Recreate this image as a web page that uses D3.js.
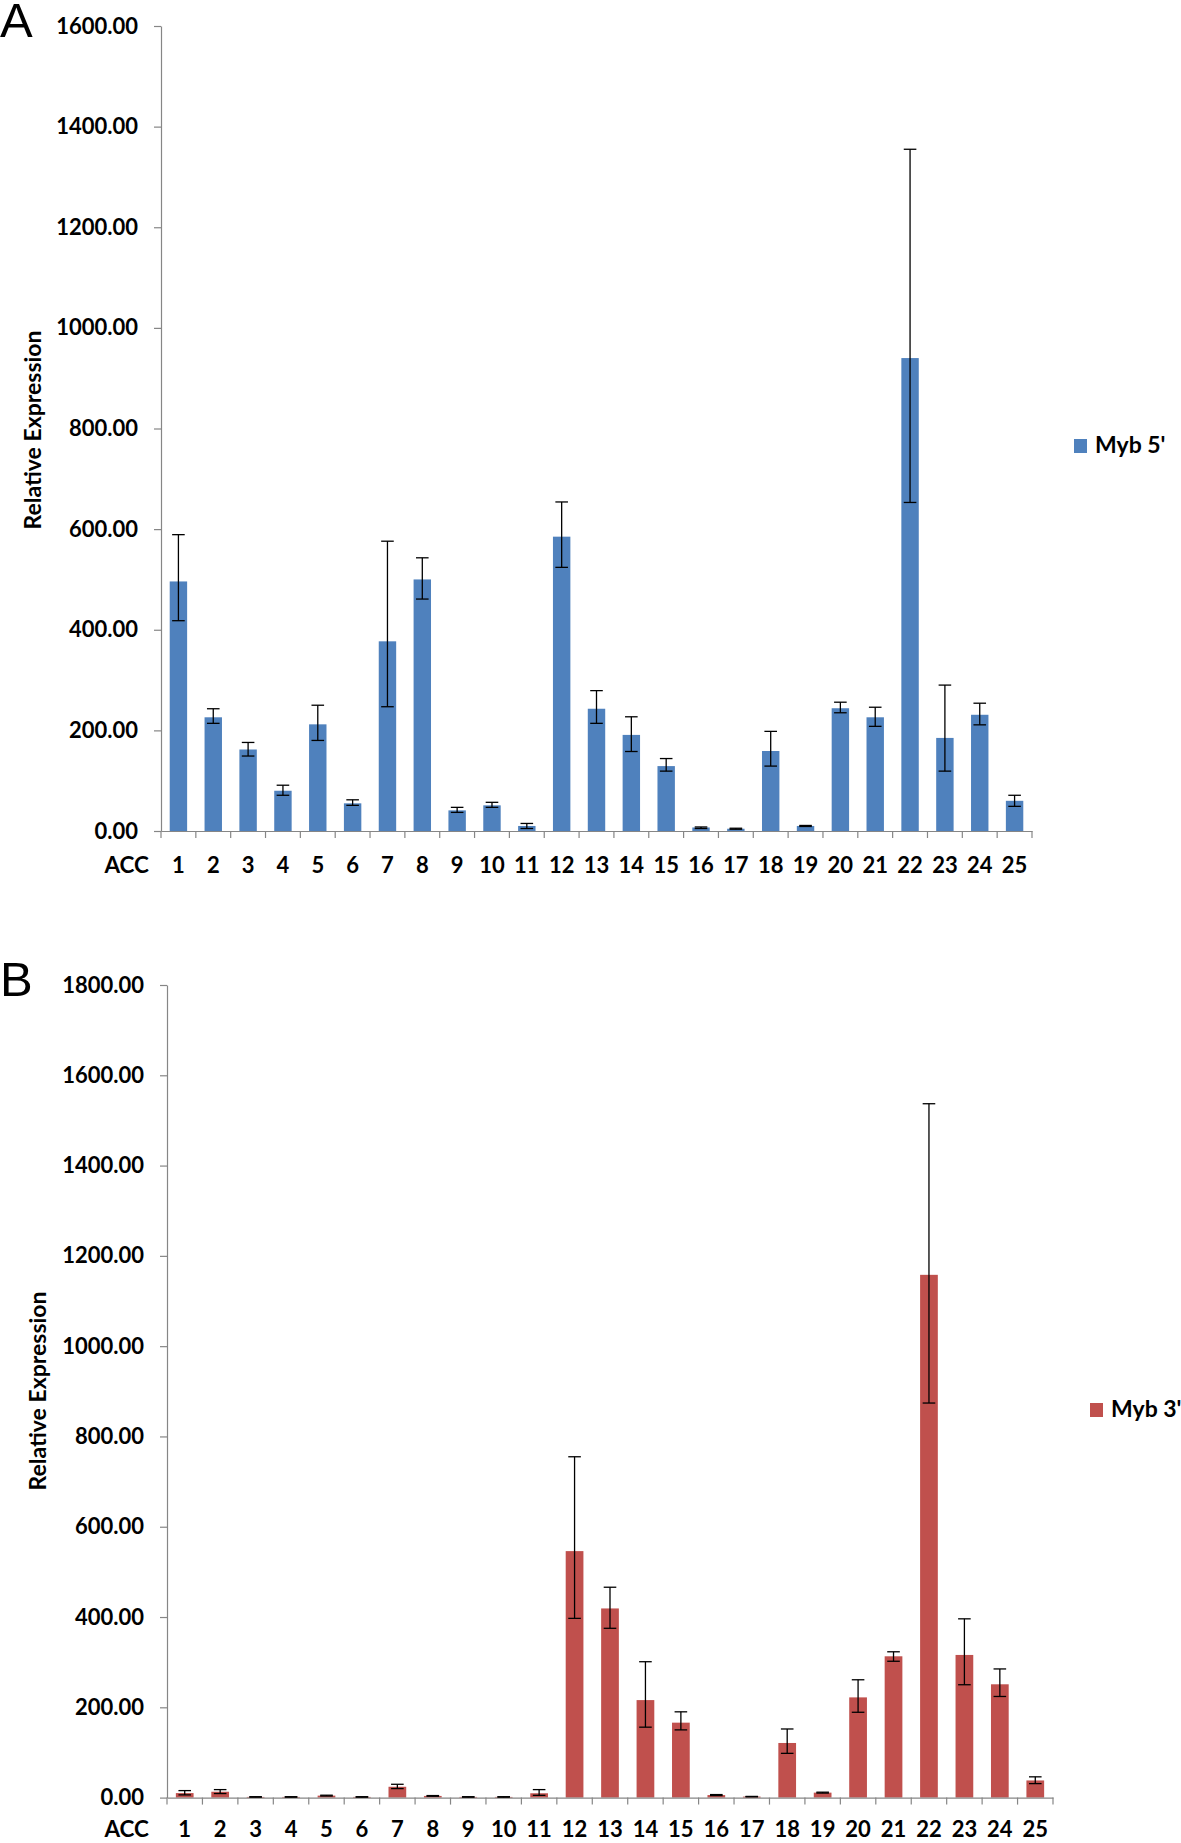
<!DOCTYPE html>
<html>
<head>
<meta charset="utf-8">
<script src="https://cdn.jsdelivr.net/npm/d3@7"></script>
<style>
  body { margin: 0; background: #ffffff; }
  svg { display: block; }
</style>
</head>
<body>
<svg id="chart" width="1181" height="1843"></svg>
<script>
// ---------------- DATA ----------------
const categories = ["1","2","3","4","5","6","7","8","9","10","11","12","13","14","15","16","17","18","19","20","21","22","23","24","25"];
const xAxisTitle = "ACC";
const yAxisTitle = "Relative Expression";
const panelLabels = ["A", "B"];
const seriesNames = ["Myb 5'", "Myb 3'"];

// Panel A: Myb 5'
const myb5Values = [496, 226, 162, 80, 212, 55, 377, 500, 41, 51, 10, 585, 243, 191, 129, 7, 4.5, 159, 10, 244, 226, 940, 185, 231, 60];
const myb5Lower  = [418, 214, 149, 71, 180, 51, 247, 461, 37, 47, 5, 524, 214, 158, 119, 5, 3.5, 129, 9, 235, 208, 653, 119, 211, 49];
const myb5Upper  = [589, 243, 176, 91, 250, 62, 576, 543, 47, 57, 15, 654, 279, 227, 144, 8, 5.5, 198, 11, 256, 246, 1355, 290, 254, 71];

// Panel B: Myb 3'
const myb3Values = [10, 13, 1.5, 1.5, 4.4, 1.5, 24, 3.7, 1.5, 1.5, 9.6, 546, 419, 216, 166, 5.6, 2.2, 121, 11, 222, 313, 1158, 316, 251, 38];
const myb3Lower  = [6, 9, 1, 1, 3.5, 1, 20, 3, 1, 1, 5, 397, 375, 156, 150, 4.5, 1.8, 98, 10, 189, 302, 874, 250, 224, 31];
const myb3Upper  = [15.5, 17.7, 2, 2, 5.3, 2, 29.5, 4.5, 2, 2, 17.7, 755, 466, 301, 190, 6.7, 2.6, 152, 12, 261, 323, 1537, 396, 285, 46];

const yTicksA = [0, 200, 400, 600, 800, 1000, 1200, 1400, 1600];
const yTicksB = [0, 200, 400, 600, 800, 1000, 1200, 1400, 1600, 1800];

// ---------------- LAYOUT ----------------
const FONT = "Lato, 'Open Sans', 'Liberation Sans', sans-serif";
const panels = [
  { label: panelLabels[0], name: seriesNames[0], values: myb5Values, lower: myb5Lower, upper: myb5Upper,
    ticks: yTicksA, color: "#4F81BD",
    x0: 161, x1: 1032, yTop: 26, yBottom: 831,
    labelBaseline: 37, titleX: 41, titleY: 430,
    legendX: 1074, legendY: 439, xLabelOffset: 42 },
  { label: panelLabels[1], name: seriesNames[1], values: myb3Values, lower: myb3Lower, upper: myb3Upper,
    ticks: yTicksB, color: "#C0504D",
    x0: 167, x1: 1053, yTop: 985, yBottom: 1797.6,
    labelBaseline: 996, titleX: 46, titleY: 1391,
    legendX: 1090, legendY: 1403, xLabelOffset: 39 }
];

const svg = d3.select("#chart");
svg.append("rect").attr("width", 1181).attr("height", 1843).attr("fill", "#fff");

panels.forEach(p => {
  const g = svg.append("g");
  const x = d3.scaleBand().domain(categories).range([p.x0, p.x1]).paddingInner(0.5).paddingOuter(0.25);
  const xIdx = d3.scaleLinear().domain([0, categories.length]).range([p.x0, p.x1]);
  const y = d3.scaleLinear().domain([0, d3.max(p.ticks)]).range([p.yBottom, p.yTop]);
  const data = categories.map((c, i) => ({ c, v: p.values[i], lo: p.lower[i], hi: p.upper[i] }));

  // panel letter
  g.append("text").attr("x", 0).attr("y", p.labelBaseline)
    .attr("font-family", "'Liberation Sans', Arial, sans-serif").attr("font-size", 49)
    .attr("fill", "#000").text(p.label);

  // bars
  g.selectAll("rect.bar").data(data).join("rect").attr("class", "bar")
    .attr("x", d => x(d.c)).attr("width", x.bandwidth())
    .attr("y", d => y(d.v)).attr("height", d => y(0) - y(d.v))
    .attr("fill", p.color);

  // y axis
  const yAxis = g.append("g").attr("transform", `translate(${p.x0},0)`)
    .call(d3.axisLeft(y).tickValues(p.ticks).tickFormat(d3.format(".2f"))
      .tickSize(7).tickSizeOuter(0).tickPadding(16));
  yAxis.attr("font-family", FONT);
  yAxis.select(".domain").attr("stroke", "#868686").attr("stroke-width", 1.2);
  yAxis.selectAll(".tick line").attr("stroke", "#868686").attr("stroke-width", 1.2);
  yAxis.selectAll(".tick text").attr("font-size", 22).attr("font-weight", "bold").attr("fill", "#000");

  // x axis (labels)
  const xAxis = g.append("g").attr("transform", `translate(0,${y(0)})`)
    .call(d3.axisBottom(x).tickSize(0).tickSizeOuter(0).tickPadding(p.xLabelOffset - 15.6));
  xAxis.attr("font-family", FONT);
  xAxis.select(".domain").attr("stroke", "#868686").attr("stroke-width", 1.2);
  xAxis.selectAll(".tick text").attr("font-size", 22).attr("font-weight", "bold").attr("fill", "#000");

  // category boundary ticks
  g.selectAll("line.xtick").data(d3.range(categories.length + 1)).join("line").attr("class", "xtick")
    .attr("x1", i => xIdx(i)).attr("x2", i => xIdx(i))
    .attr("y1", y(0)).attr("y2", y(0) + 7)
    .attr("stroke", "#868686").attr("stroke-width", 1.2);

  // ACC label
  g.append("text").attr("x", 149).attr("y", y(0) + p.xLabelOffset)
    .attr("text-anchor", "end").attr("font-family", FONT).attr("font-size", 22.5)
    .attr("font-weight", "bold").attr("fill", "#000").text(xAxisTitle);

  // error bars
  const cap = 6.3;
  const eb = g.selectAll("g.err").data(data).join("g").attr("class", "err")
    .attr("stroke", "#000").attr("stroke-width", 1.3);
  eb.append("line")
    .attr("x1", d => x(d.c) + x.bandwidth() / 2).attr("x2", d => x(d.c) + x.bandwidth() / 2)
    .attr("y1", d => y(d.hi)).attr("y2", d => y(d.lo));
  eb.append("line")
    .attr("x1", d => x(d.c) + x.bandwidth() / 2 - cap).attr("x2", d => x(d.c) + x.bandwidth() / 2 + cap)
    .attr("y1", d => y(d.hi)).attr("y2", d => y(d.hi));
  eb.append("line")
    .attr("x1", d => x(d.c) + x.bandwidth() / 2 - cap).attr("x2", d => x(d.c) + x.bandwidth() / 2 + cap)
    .attr("y1", d => y(d.lo)).attr("y2", d => y(d.lo));

  // y title
  g.append("text")
    .attr("transform", `translate(${p.titleX},${p.titleY}) rotate(-90)`)
    .attr("text-anchor", "middle").attr("font-family", FONT).attr("font-size", 23)
    .attr("font-weight", "bold").attr("fill", "#000").text(yAxisTitle);

  // legend
  g.append("rect").attr("x", p.legendX).attr("y", p.legendY).attr("width", 13).attr("height", 14)
    .attr("fill", p.color);
  g.append("text").attr("x", p.legendX + 21).attr("y", p.legendY + 14)
    .attr("font-family", FONT).attr("font-size", 23).attr("font-weight", "bold")
    .attr("fill", "#000").text(p.name);
});
</script>
</body>
</html>
